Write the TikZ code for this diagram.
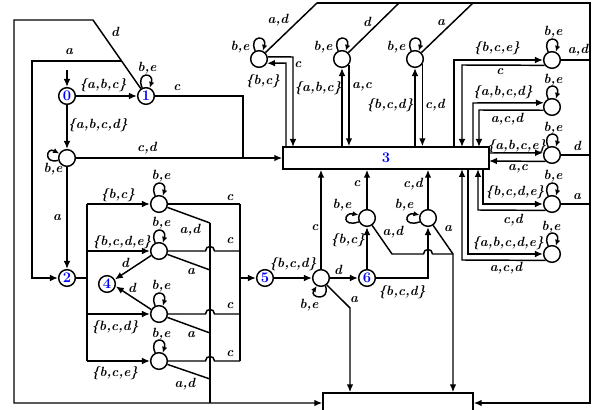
\documentclass[tikz,border=0pt]{standalone}
\usetikzlibrary{arrows.meta,calc}
\newcommand\lbf{\fontsize{10}{11}\selectfont\bfseries\itshape}
\begin{document}
\begin{tikzpicture}[x=0.75pt,y=-0.75pt,
  ln/.style={line width=1.1pt},
  ar/.style={ln,-{Latex[length=6pt,width=5pt]}},
  lp/.style={ln,-{Latex[length=4.5pt,width=4pt]}},
  st/.style={circle,draw,line width=1.1pt,minimum size=12.5pt,inner sep=0pt,fill=white},
  nst/.style={st,text=blue,font=\fontsize{11}{11}\selectfont\bfseries},
  lb/.style={font=\lbf,inner sep=0pt},
  boxst/.style={draw,line width=1.1pt,inner sep=0pt,fill=white}]
\useasboundingbox (0,0) rectangle (597,410);
% states
\node[nst] (q0) at (67,96) {0};
\node[nst] (q1) at (146,96) {1};
\node[st] (s0) at (67,158) {};
\node[nst] (q2) at (67,278) {2};
\node[nst] (q4) at (107,284) {4};
\node[st] (m1) at (159,204) {};
\node[st] (m2) at (159,251) {};
\node[st] (m3) at (159,314) {};
\node[st] (m4) at (159,361) {};
\node[nst] (q5) at (265,278) {5};
\node[st] (n1) at (321,278) {};
\node[nst] (q6) at (367,278) {6};
\node[st] (n2) at (367,218) {};
\node[st] (n3) at (428,218) {};
\node[st] (t1) at (259,59) {};
\node[st] (t2) at (342,59) {};
\node[st] (t3) at (415,59) {};
\node[st] (r1) at (552,60) {};
\node[st] (r2) at (552,107) {};
\node[st] (r3) at (552,155) {};
\node[st] (r4) at (552,204) {};
\node[st] (r5) at (552,254) {};
\node[boxst,minimum width=154.5pt,minimum height=16.5pt,text=blue,font=\fontsize{11}{11}\selectfont\bfseries] (B3) at (386,158) {3};
\node[boxst,minimum width=112.5pt,minimum height=15pt] (B4) at (398,403) {};
% coordinates
\coordinate (i0) at (67,70);
\coordinate (c1) at (243,96);
\coordinate (c1b) at (243,158);
\coordinate (dtop) at (93,20);
\coordinate (dl) at (14,20);
\coordinate (dlb) at (14,403);
\coordinate (da) at (121.6,61);
\coordinate (al) at (32,61);
\coordinate (alb) at (32,278);
\coordinate (bl) at (87,278);
\coordinate (blt) at (87,204);
\coordinate (blb) at (87,361);
\coordinate (br) at (240,278);
\coordinate (brt) at (240,204);
\coordinate (brb) at (240,361);
\coordinate (d1) at (210,223);
\coordinate (d2) at (210,270);
\coordinate (d3) at (210,333);
\coordinate (d4) at (210,379);
\coordinate (vb) at (210,403);
\coordinate (na) at (350,308);
\coordinate (nb) at (453,254);
\coordinate (tt1) at (317,3);
\coordinate (tt2) at (399,3);
\coordinate (tt3) at (473,3);
\coordinate (tr) at (590,3);
\coordinate (trb) at (590,403);
% upper left
\draw[ar] (i0) -- (q0);
\draw[ar] (q0) -- (q1);
\draw[ar] (q0) -- (s0);
\draw[ar] (s0) -- (B3.west);
\draw[ln] (q1) -- (c1) -- (c1b);
\draw[ar] (s0) -- (q2);
\draw[ar] (q1.125) -- (dtop) -- (dl) -- (dlb) -- (B4.west);
\draw[ar] (da) -- (al) -- (alb) -- (q2);
\draw[lp] (q1.115) .. controls +(-7,-16) and +(5,-16) .. (q1.65);
\draw[lp] (s0.-165) .. controls +(-15,4) and +(-13,-7) .. (s0.150);
\node[lb] at (115,32) {d};
\node[lb] at (69,52) {a};
\node[lb] at (103,85) {\{a,b,c\}};
\node[lb] at (147,68) {b,e};
\node[lb] at (177,88) {c};
\node[lb] at (98,125) {\{a,b,c,d\}};
\node[lb] at (147,148) {c,d};
\node[lb] at (53,169) {b,e};
\node[lb] at (57,218) {a};
% left cluster
\draw[ln] (q2) -- (bl);
\draw[ln] (blt) -- (blb);
\draw[ar] (blt) -- (m1);
\draw[ar] (87,251) -- (m2);
\draw[ar] (87,314) -- (m3);
\draw[ar] (blb) -- (m4);
\foreach \m in {m1,m2,m3,m4}
  \draw[lp] (\m.115) .. controls +(-7,-16) and +(5,-16) .. (\m.65);
\draw[ar] (m2.-150) -- (q4.30);
\draw[ar] (m3.150) -- (q4.-15);
\draw[ln] (m1) -- (brt);
\draw[ln] (m2) -- (205.5,251) .. controls (205.5,245) and (214.5,245) .. (214.5,251) -- (240,251);
\draw[ln] (m3) -- (205.5,314) .. controls (205.5,308) and (214.5,308) .. (214.5,314) -- (240,314);
\draw[ln] (m4) -- (205.5,361) .. controls (205.5,355) and (214.5,355) .. (214.5,361) -- (brb);
\draw[ln] (brt) -- (brb);
\draw[ar] (br) -- (q5);
\draw[ln] (m1.-22) -- (d1);
\draw[ln] (m2.-22) -- (d2);
\draw[ln] (m3.-22) -- (d3);
\draw[ln] (m4.-22) -- (d4);
\draw[ln] (d1) -- (vb);
\node[lb] at (118,195) {\{b,c\}};
\node[lb] at (122,242) {\{b,c,d,e\}};
\node[lb] at (115,327) {\{b,c,d\}};
\node[lb] at (115,373) {\{b,c,e\}};
\node[lb] at (161,176) {b,e};
\node[lb] at (161,223) {b,e};
\node[lb] at (161,286) {b,e};
\node[lb] at (161,334) {b,e};
\node[lb] at (125,263) {d};
\node[lb] at (132,288) {d};
\node[lb] at (190,230) {a,d};
\node[lb] at (191,272) {a};
\node[lb] at (191,335) {a};
\node[lb] at (185,384) {a,d};
\node[lb] at (230,198) {c};
\node[lb] at (230,241) {c};
\node[lb] at (230,306) {c};
\node[lb] at (230,354) {c};
% middle lower
\draw[ar] (q5) -- (n1);
\draw[ar] (n1) -- (q6);
\draw[ar] (n1) -- (n1 |- B3.south);
\draw[ar] (q6) -- (n2);
\draw[ar] (n2) -- (n2 |- B3.south);
\draw[ar] (q6) -- (428,278) -- (n3);
\draw[ar] (n3) -- (n3 |- B3.south);
\draw[ar] (n1.-50) -- (na) -- (na |- B4.north);
\draw[ln] (n2.-55) -- (392,254) -- (423.5,254) .. controls (423.5,248) and (432.5,248) .. (432.5,254) -- (nb);
\draw[ar] (n3.-55) -- (nb) -- (nb |- B4.north);
\draw[lp] (n1.-60) .. controls +(5,16) and +(-8,12) .. (n1.-118);
\draw[lp] (n2.-155) .. controls +(-17,6) and +(-15,-3) .. (n2.160);
\draw[lp] (n3.-155) .. controls +(-17,6) and +(-15,-3) .. (n3.160);
\node[lb] at (293,264) {\{b,c,d\}};
\node[lb] at (338,270) {d};
\node[lb] at (315,228) {c};
\node[lb] at (357,184) {c};
\node[lb] at (413,184) {c,d};
\node[lb] at (342,205) {b,e};
\node[lb] at (404,205) {b,e};
\node[lb] at (348,240) {\{b,c\}};
\node[lb] at (393,232) {a,d};
\node[lb] at (402,292) {\{b,c,d\}};
\node[lb] at (309,305) {b,e};
\node[lb] at (354,300) {a};
\node[lb] at (448,229) {a};
% top states
\draw[ln] (t1.45) -- (tt1);
\draw[ln] (t2.45) -- (tt2);
\draw[ln] (t3.45) -- (tt3);
\draw[ar] (tt1) -- (tr) -- (trb) -- (B4.east);
\draw[ar] (t1.14) -- (293,57) -- (293,147);
\draw[ar] (286,147) -- (286,63) -- (t1.-28);
\draw[ar] (t2 |- B3.north) -- (t2);
\draw[ar] (t2.-40) -- (t2.-40 |- B3.north);
\draw[ar] (t3 |- B3.north) -- (t3);
\draw[ar] (t3.-35) -- (t3.-35 |- B3.north);
\foreach \t in {t1,t2,t3}
  \draw[lp] (\t.115) .. controls +(-7,-16) and +(5,-16) .. (\t.65);
\node[lb] at (278,20) {a,d};
\node[lb] at (367,22) {d};
\node[lb] at (441,23) {a};
\node[lb] at (240,47) {b,e};
\node[lb] at (323,47) {b,e};
\node[lb] at (396,47) {b,e};
\node[lb] at (263,81) {\{b,c\}};
\node[lb] at (298,65) {c};
\node[lb] at (318,88) {\{a,b,c\}};
\node[lb] at (362,87) {a,c};
\node[lb] at (390,105) {\{b,c,d\}};
\node[lb] at (435,105) {c,d};
% right states
\draw[ln] (r1) -- (590,60);
\draw[ar] (454,147) -- (454,60) -- (r1);
\draw[ar] (r1.-144) -- (462,65) -- (462,147);
\draw[ar] (473,147) -- (473,103) -- (r2.152);
\draw[ar] (r2.-159) -- (479,110) -- (479,147);
\draw[ar] (489,153) -- (r3.166);
\draw[ar] (r3.-135) -- (489,161);
\draw[ln] (r3) -- (590,155);
\draw[ar] (483,169) -- (483,204) -- (r4);
\draw[ar] (r4.-135) -- (478,210) -- (478,169);
\draw[ln] (r4) -- (590,204);
\draw[ar] (468,169) -- (468,254) -- (r5);
\draw[ar] (r5.-135) -- (462,260) -- (462,169);
\foreach \r in {r1,r2,r3,r4,r5}
  \draw[lp] (\r.115) .. controls +(-7,-16) and +(5,-16) .. (\r.65);
\node[lb] at (553,32) {b,e};
\node[lb] at (553,80) {b,e};
\node[lb] at (553,128) {b,e};
\node[lb] at (553,176) {b,e};
\node[lb] at (551,227) {b,e};
\node[lb] at (497,48) {\{b,c,e\}};
\node[lb] at (500,72) {c};
\node[lb] at (578,50) {a,d};
\node[lb] at (503,92) {\{a,b,c,d\}};
\node[lb] at (507,119) {a,c,d};
\node[lb] at (517,146) {\{a,b,c,e\}};
\node[lb] at (577,146) {d};
\node[lb] at (518,169) {a,c};
\node[lb] at (515,192) {\{b,c,d,e\}};
\node[lb] at (577,197) {a};
\node[lb] at (513,220) {c,d};
\node[lb] at (508,243) {\{a,b,c,d,e\}};
\node[lb] at (506,268) {a,c,d};
\end{tikzpicture}
\end{document}
